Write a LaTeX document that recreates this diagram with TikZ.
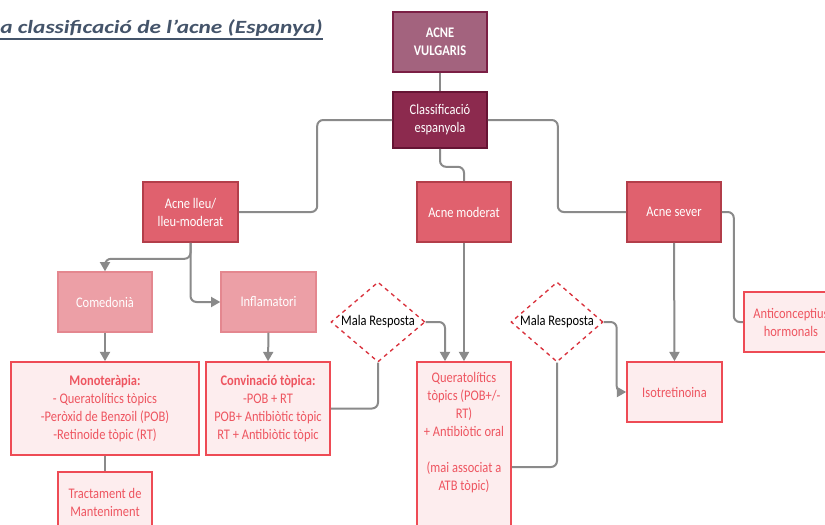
\documentclass[tikz,border=0pt]{standalone}
\usepackage{fontspec}
\setmainfont[FakeStretch=0.85]{Carlito}
\newfontfamily\titlefont[FakeStretch=1.25]{Carlito}
\usetikzlibrary{shapes.geometric,arrows.meta,calc}
\definecolor{titlec}{HTML}{44546A}
\definecolor{vulgfill}{HTML}{A3637E}
\definecolor{vulgdraw}{HTML}{7B1F45}
\definecolor{clasfill}{HTML}{8C2A4E}
\definecolor{clasdraw}{HTML}{661434}
\definecolor{twofill}{HTML}{E0616E}
\definecolor{twodraw}{HTML}{B33E4A}
\definecolor{threefill}{HTML}{EC9FA6}
\definecolor{threedraw}{HTML}{E4878F}
\definecolor{fourfill}{HTML}{FDEDEE}
\definecolor{fourdraw}{HTML}{EE4B55}
\definecolor{fourtext}{HTML}{EE5560}
\definecolor{diadraw}{HTML}{D9303B}
\definecolor{linec}{HTML}{8A8A8A}
\tikzset{
  boxbase/.style={rectangle, inner sep=0pt, align=center, font=\fontsize{11}{13.5}\selectfont},
  vulgbox/.style={boxbase, fill=vulgfill, draw=vulgdraw, line width=1.2pt, text=white, font=\fontsize{11}{13.5}\selectfont\bfseries},
  clasbox/.style={boxbase, fill=clasfill, draw=clasdraw, line width=1.2pt, text=white},
  twobox/.style={boxbase, fill=twofill, draw=twodraw, line width=1.2pt, text=white},
  threebox/.style={boxbase, fill=threefill, draw=threedraw, line width=1pt, text=white},
  fourbox/.style={boxbase, fill=fourfill, draw=fourdraw, line width=1.2pt, text=fourtext},
  diabox/.style={diamond, aspect=1.175, inner sep=0pt, fill=white, draw=diadraw, dashed, line width=1pt,
     minimum width=94*0.75pt, minimum height=80*0.75pt, font=\fontsize{11}{13.5}\selectfont, text=black},
  conn/.style={draw=linec, line width=1.5pt, rounded corners=4.5pt},
  arr/.style={conn, -{Triangle[length=7pt,width=7.5pt]}, fill=none},
}
\begin{document}
\begin{tikzpicture}[x=0.75pt,y=-0.75pt]
\useasboundingbox (0,0) rectangle (825,525);
\clip (0,0) rectangle (825,525);
\fill[white] (0,0) rectangle (825,525);

\node[anchor=base west, inner sep=0pt, text=titlec, font=\titlefont\fontsize{14}{16}\selectfont\bfseries\itshape] (title) at (0,33) {a classificació de l’acne (Espanya)};
\draw[titlec, line width=1.4pt] ($(title.base west)+(0,6)$) -- ($(title.base east)+(0,6)$);

\node[vulgbox, minimum width=94*0.75pt, minimum height=60*0.75pt] (vulg) at (440,42) {ACNE\\VULGARIS};
\node[clasbox, minimum width=94*0.75pt, minimum height=56*0.75pt] (clas) at (440,120) {Classificació\\espanyola};

\node[twobox, minimum width=95*0.75pt, minimum height=60*0.75pt] (lleu) at (190.5,212) {Acne lleu/\\lleu-moderat};
\node[twobox, minimum width=94*0.75pt, minimum height=60*0.75pt] (mod) at (464,212) {Acne moderat};
\node[twobox, minimum width=94*0.75pt, minimum height=60*0.75pt] (sev) at (674,212) {Acne sever};

\node[threebox, minimum width=94*0.75pt, minimum height=60*0.75pt] (come) at (105,302) {Comedonià};
\node[threebox, minimum width=95*0.75pt, minimum height=60*0.75pt] (infl) at (268.5,302) {Inflamatori};

\node[fourbox, minimum width=188*0.75pt, minimum height=93*0.75pt] (mono) at (105,408.5) {\textbf{Monoteràpia:}\\- Queratolítics tòpics\\-Peròxid de Benzoil (POB)\\-Retinoide tòpic (RT)};
\node[fourbox, minimum width=124*0.75pt, minimum height=93*0.75pt] (conv) at (268,408.5) {\textbf{Convinació tòpica:}\\-POB + RT\\POB+ Antibiòtic tòpic\\RT + Antibiòtic tòpic};
\node[fourbox, minimum width=94*0.75pt, minimum height=60*0.75pt] (tract) at (105,502) {Tractament de\\Manteniment};
\node[fourbox, minimum width=94*0.75pt, minimum height=176*0.75pt] (quer) at (464,450) {};
\node[anchor=north, align=center, inner sep=0pt, text=fourtext, font=\fontsize{11}{13.5}\selectfont] (quertext) at (464,372) {Queratolítics\\tòpics (POB+/-\\RT)\\+ Antibiòtic oral\\[13.5pt](mai associat a\\ATB tòpic)};
\node[fourbox, minimum width=95*0.75pt, minimum height=60*0.75pt] (iso) at (674.5,392) {Isotretinoina};
\node[fourbox, minimum width=94*0.75pt, minimum height=60*0.75pt] (anti) at (791,322) {Anticonceptius\\hormonals};

\node[diabox] (d1) at (378,322) {Mala Resposta};
\node[diabox, minimum width=92*0.75pt] (d2) at (557,322) {Mala Resposta};

% connectors
\draw[conn] (vulg.south) -- (clas.north);
\draw[conn] (clas.west) -- ++(-75,0) |- (lleu.east);
\draw[conn] (clas.south) -- ++(0,18) -| (mod.north);
\draw[conn] (clas.east) -- ++(70,0) |- (sev.west);
\draw[arr] (lleu.south) -- ++(0,16) -| (come.north);
\draw[arr] (lleu.south) |- (infl.west);
\draw[arr] (come.south) -- (mono.north);
\draw[conn] (mono.south) -- (tract.north);
\draw[arr] (infl.south) -- (conv.north);
\draw[arr] (d1.east) -| ($(quer.north)+(-19,0)$);
\draw[arr] (mod.south) -- (quer.north);
\draw[conn] (d1.south) |- (conv.east);
\draw[conn] (d2.south) |- ($(quer.east)+(0,17)$);
\draw[arr] (d2.east) -- ++(13,0) |- (iso.west);
\draw[arr] (sev.south) -- (iso.north);
\draw[conn] (sev.east) -- ++(12,0) |- (anti.west);
\end{tikzpicture}
\end{document}
